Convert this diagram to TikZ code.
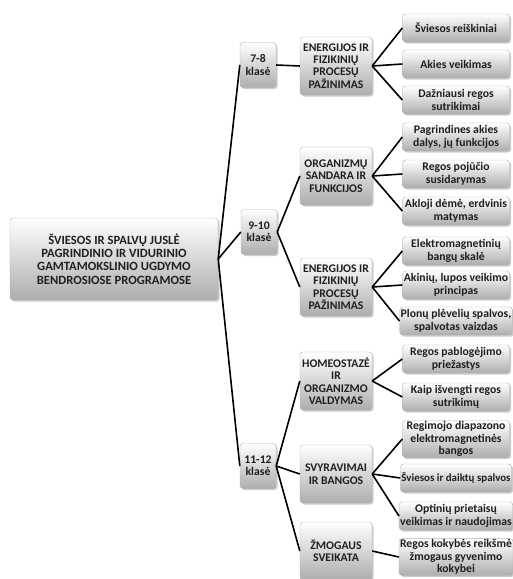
\documentclass[tikz,border=0pt]{standalone}
\usepackage{fontspec}
\setmainfont{Carlito}
\usetikzlibrary{shadows}

\begin{document}
\begin{tikzpicture}[x=1pt,y=-1pt,
langas/.style={rectangle,rounded corners=3pt,draw=black!30,top color=white,bottom color=black!32,drop shadow={opacity=.4,shadow xshift=1.5pt,shadow yshift=-1.5pt},font=\fontsize{11.7}{12.4}\selectfont\bfseries,text=black!88,align=center,inner xsep=1pt,inner ysep=1pt},
saknis/.style={langas,minimum width=208pt,minimum height=82pt,font=\fontsize{12.6}{13.4}\selectfont\bfseries},
klase/.style={langas,minimum width=36pt,minimum height=45pt},
tema/.style={langas,minimum width=72pt,minimum height=58pt},
lapas/.style={langas,minimum width=107pt,minimum height=28pt}]
\useasboundingbox (0,0) rectangle (513,579);
\node[saknis](root) at (114,259){ŠVIESOS IR SPALVŲ JUSLĖ\\PAGRINDINIO IR VIDURINIO\\GAMTAMOKSLINIO UGDYMO\\BENDROSIOSE PROGRAMOSE};
\node[klase](k78) at (258,65){7-8\\klasė};
\node[klase](k910) at (259,232){9-10\\klasė};
\node[klase](k1112) at (258,466){11-12\\klasė};
\node[tema](energ1) at (336,66){ENERGIJOS IR\\FIZIKINIŲ\\PROCESŲ\\PAŽINIMAS};
\node[tema](organ) at (336,176){ORGANIZMŲ\\SANDARA IR\\FUNKCIJOS};
\node[tema](energ2) at (336,287){ENERGIJOS IR\\FIZIKINIŲ\\PROCESŲ\\PAŽINIMAS};
\node[tema](homeo) at (336,381){HOMEOSTAZĖ\\IR\\ORGANIZMO\\VALDYMAS};
\node[tema](svyr) at (336,474){SVYRAVIMAI\\IR BANGOS};
\node[tema](sveik) at (336,551){ŽMOGAUS\\SVEIKATA};
\node[lapas](reisk) at (456,28){Šviesos reiškiniai};
\node[lapas](akies) at (456,64){Akies veikimas};
\node[lapas](daznl) at (456,100){Dažniausi regos\\sutrikimai};
\node[lapas](dalys) at (456,137){Pagrindines akies\\dalys, jų funkcijos};
\node[lapas](pojut) at (456,174){Regos pojūčio\\susidarymas};
\node[lapas](akloj) at (456,211){Akloji dėmė, erdvinis\\matymas};
\node[lapas](skale) at (456,251){Elektromagnetinių\\bangų skalė};
\node[lapas](akin) at (456,285){Akinių, lupos veikimo\\principas};
\node[lapas](plonu) at (456,321){Plonų plėvelių spalvos,\\spalvotas vaizdas};
\node[lapas](pablog) at (456,359){Regos pablogėjimo\\priežastys};
\node[lapas](isveng) at (456,397){Kaip išvengti regos\\sutrikimų};
\node[lapas](regim) at (456,439){Regimojo diapazono\\elektromagnetinės\\bangos};
\node[lapas,font=\fontsize{10.9}{12}\selectfont\bfseries](spalv) at (456,478){Šviesos ir daiktų spalvos};
\node[lapas](optin) at (456,516){Optinių prietaisų\\veikimas ir naudojimas};
\node[lapas](kokyb) at (456,557){Regos kokybės reikšmė\\žmogaus gyvenimo\\kokybei};
\begin{scope}[line width=1.6pt]
 \draw (root.east)--(k78.west);
 \draw (root.east)--(k910.west);
 \draw (root.east)--(k1112.west);
 \draw (k78.east)--(energ1.west);
 \draw (k910.east)--(organ.west);
 \draw (k910.east)--(energ2.west);
 \draw (k1112.east)--(homeo.west);
 \draw (k1112.east)--(svyr.west);
 \draw (k1112.east)--(sveik.west);
 \draw (energ1.east)--(reisk.west);
 \draw (energ1.east)--(akies.west);
 \draw (energ1.east)--(daznl.west);
 \draw (organ.east)--(dalys.west);
 \draw (organ.east)--(pojut.west);
 \draw (organ.east)--(akloj.west);
 \draw (energ2.east)--(skale.west);
 \draw (energ2.east)--(akin.west);
 \draw (energ2.east)--(plonu.west);
 \draw (homeo.east)--(pablog.west);
 \draw (homeo.east)--(isveng.west);
 \draw (svyr.east)--(regim.west);
 \draw (svyr.east)--(spalv.west);
 \draw (svyr.east)--(optin.west);
 \draw (sveik.east)--(kokyb.west);
\end{scope}
\end{tikzpicture}
\end{document}
